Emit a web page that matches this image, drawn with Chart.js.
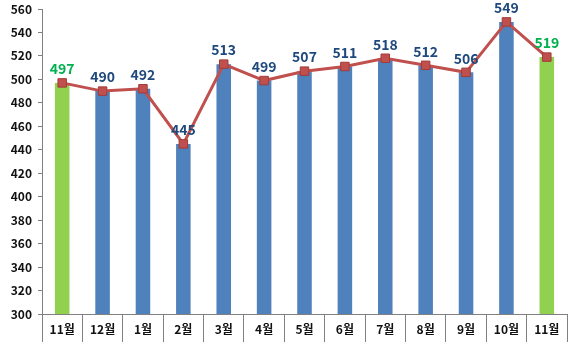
<!DOCTYPE html>
<html><head><meta charset="utf-8">
<script src="https://cdn.jsdelivr.net/npm/chart.js@4"></script>
<style>html,body{margin:0;padding:0;background:#fff}#wrap{width:569px;height:342px}</style>
</head><body><div id="wrap"><canvas id="c" width="569" height="342"></canvas></div>
<script>
const categories = ['11월','12월','1월','2월','3월','4월','5월','6월','7월','8월','9월','10월','11월'];
const values = [497,490,492,445,513,499,507,511,518,512,506,549,519];
const highlighted = [true,false,false,false,false,false,false,false,false,false,false,false,true];
const yTicks = {min:300, max:560, step:20};

const BLUE='#4F81BD', GREEN='#92D050', RED='#C0504D', LBLUE='#1F497D', LGREEN='#00B050';
const FONT='"Noto Sans CJK KR", "Noto Sans", sans-serif';

const labelPlugin = {
  id:'vlabels',
  afterDatasetsDraw(chart){
    const ctx = chart.ctx;
    const meta = chart.getDatasetMeta(1);
    ctx.save();
    ctx.font = 'bold 14px '+FONT;
    ctx.textAlign='center';
    ctx.textBaseline='middle';
    meta.data.forEach((pt,i)=>{
      ctx.fillStyle = highlighted[i]?LGREEN:LBLUE;
      ctx.fillText(String(values[i]), pt.x, pt.y-14);
    });
    ctx.restore();
  }
};

new Chart(document.getElementById('c'),{
  data:{
    labels:categories,
    datasets:[
      {type:'bar', data:values, backgroundColor:highlighted.map(h=>h?GREEN:BLUE),
       barPercentage:0.36, categoryPercentage:1.0, order:2},
      {type:'line', data:values, borderColor:RED, borderWidth:3, pointStyle:'rect',
       pointRadius:6, pointBackgroundColor:RED, pointBorderColor:'#A23B38', pointBorderWidth:1,
       tension:0, order:1}
    ]
  },
  options:{
    responsive:false, animation:false,
    layout:{autoPadding:false, padding:{top:9,right:2,left:0,bottom:0}},
    plugins:{legend:{display:false}, tooltip:{enabled:false}},
    scales:{
      x:{
        offset:true,
        grid:{display:true, offset:true, drawOnChartArea:false, drawTicks:true, tickLength:28, color:'#808080', lineWidth:1},
        border:{display:true, color:'#808080'},
        ticks:{color:'#111', font:{family:FONT, size:12, weight:'bold'}, padding:-20, maxRotation:0, autoSkip:false},
        afterFit(s){ s.height = 28; s.paddingLeft = 0; s.paddingRight = 0; }
      },
      y:{
        min:yTicks.min, max:yTicks.max,
        grid:{display:true, drawOnChartArea:false, drawTicks:true, tickLength:4, color:'#808080'},
        border:{display:true, color:'#808080'},
        ticks:{stepSize:yTicks.step, color:'#111', font:{family:FONT, size:12, weight:'bold'}, padding:6},
        afterFit(s){ s.width = 42; s.paddingTop = 0; s.paddingBottom = 0; }
      }
    }
  },
  plugins:[labelPlugin]
});
</script>
</body></html>
